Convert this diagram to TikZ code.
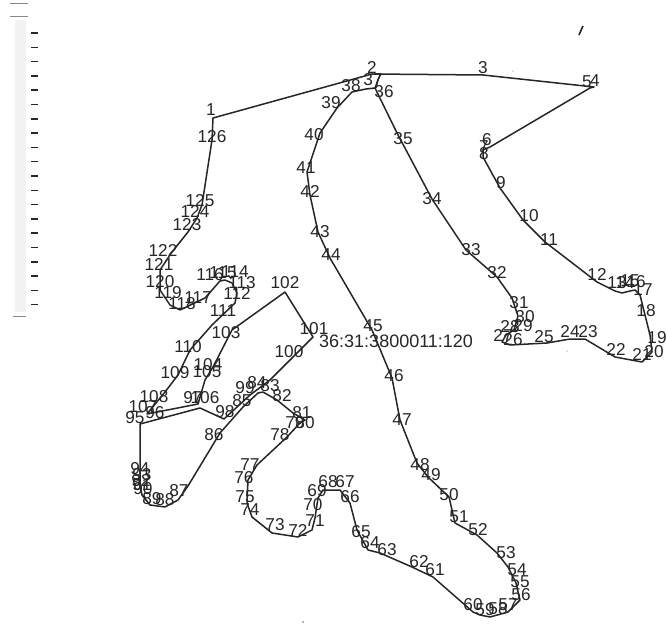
\documentclass[tikz,border=0pt]{standalone}
\usepackage{fontspec}
\setmainfont{Liberation Sans}
\usepackage{xcolor}
\definecolor{DeepInk}{HTML}{262626}
\definecolor{SoftInk}{HTML}{F2F2F5}
\tikzset{
  outline/.style={draw=DeepInk,line width=1.5pt,line join=round},
  ptlabel/.style={font=\fontsize{17.2}{18}\selectfont,text=DeepInk,inner sep=0pt},
  ruletick/.style={draw=DeepInk,line width=1.5pt},
  rulecap/.style={draw=DeepInk!55,line width=1pt},
  speck/.style={draw=DeepInk,line width=1.6pt}
}
\begin{document}
\begin{tikzpicture}[x=1pt,y=-1pt]
  \useasboundingbox (0,0) rectangle (667,631);
  % scale strip
  \fill[SoftInk] (15,20) rectangle (26,312);
  \coordinate (capa) at (10,4);   \coordinate (capb) at (28,4);
  \coordinate (capc) at (10,17);  \coordinate (capd) at (28,17);
  \coordinate (cape) at (13,316); \coordinate (capf) at (26,316);
  \draw[rulecap] (capa) -- (capb);
  \draw[rulecap] (capc) -- (capd);
  \draw[rulecap] (cape) -- (capf);
  \foreach \i in {0,...,19}
    \draw[ruletick] (31,33+14.3*\i) -- (38,33+14.3*\i);
  % specks
  \draw[speck] (583,26) -- (579,35);
  \fill[DeepInk!70] (303,622) circle (0.8);
  \fill[DeepInk!50] (513,71) circle (0.6);
  \fill[DeepInk!50] (567,351) circle (0.6);
  % n / vertex / label
  \foreach \n/\x/\y/\lx/\ly in {
    1/213/118/211/110, 2/372/74/372/67, 3/483/75/483/68, 4/594/87/595/81, 5/590/88/587/82,
    6/490/147/487/140, 7/483/150/484/147, 8/483/157/484/154, 9/500/188/501/183, 10/523/220/529/216,
    11/545/242/549/240, 12/597/282/597/274, 13/615/291/617/283, 14/622/293/625/283, 15/630/291/630/281,
    16/635/290/636/282, 17/640/295/643/290, 18/645/315/646/311, 19/650/335/657/338, 20/652/352/654/352,
    21/642/362/642/354, 22/615/357/616/349, 23/585/339/588/332, 24/570/339/570/331, 25/547/343/544/337,
    26/510/345/513/340, 27/502/342/503/335, 28/506/335/510/327, 29/514/330/523/326, 30/518/316/525/317,
    31/512/298/519/303, 32/497/277/497/273, 33/466/250/471/250, 34/432/199/432/199, 35/397/133/403/139,
    36/375/88/384/92, 37/366/89/373/80, 38/352/92/351/86, 39/337/108/331/103, 40/320/133/314/135,
    41/307/172/306/168, 42/310/195/310/191, 43/318/232/320/232, 44/330/258/331/255, 45/372/330/373/326,
    46/392/378/394/376, 47/400/420/402/420, 48/417/463/420/465, 49/428/477/431/475, 50/449/497/449/495,
    51/455/523/459/517, 52/477/535/478/530, 53/497/553/506/553, 54/508/567/517/570, 55/516/583/520/582,
    56/520/600/521/595, 57/508/612/508/605, 58/490/617/498/609, 59/480/615/485/610, 60/473/612/473/605,
    61/433/577/435/570, 62/412/567/419/562, 63/380/553/387/550, 64/368/550/370/543, 65/357/530/361/532,
    66/350/503/350/497, 67/340/490/345/482, 68/323/490/328/482, 69/318/498/317/491, 70/315/518/313/505,
    71/312/530/315/521, 72/298/537/298/530, 73/272/533/275/525, 74/252/517/250/510, 75/247/503/245/497,
    76/248/480/244/478, 77/257/465/250/465, 78/287/437/280/435, 79/300/423/295/423, 80/305/420/305/423,
    81/293/413/302/413, 82/277/400/282/396, 83/263/392/270/386, 84/258/393/257/383, 85/243/407/242/401,
    86/220/433/214/435, 87/188/486/179/491, 88/178/500/165/500, 89/165/507/152/499, 90/150/505/143/489,
    91/142/495/142/485, 92/140/485/141/481, 93/140/475/142/475, 94/140/465/140/469, 95/140/424/135/418,
    96/155/420/155/413, 97/200/408/193/398, 98/224/419/225/412, 99/250/395/245/388, 100/270/380/289/352,
    101/313/337/314/329, 102/285/292/285/283, 103/232/330/226/333, 104/213/367/208/365, 105/205/380/207/372,
    106/198/404/205/398, 107/147/414/143/407, 108/165/392/154/397, 109/178/375/175/373, 110/190/350/188/347,
    111/212/325/223/311, 112/235/303/237/293, 113/237/293/242/283, 114/232/283/235/272, 115/225/280/223/273,
    116/220/281/210/275, 117/205/298/198/298, 118/180/310/182/304, 119/170/305/168/293, 120/160/290/160/282,
    121/160/270/159/264, 122/172/252/163/250, 123/188/232/187/225, 124/197/218/195/211, 125/202/205/200/201,
    126/212/140/212/137}
  {
    \coordinate (pt\n) at (\x,\y);
    \node[ptlabel] (lab\n) at (\lx,\ly) {\n};
  }
  \coordinate (ptspur) at (380,75);
  \draw[outline] (pt1) \foreach \n in {2,...,126}{ -- (pt\n) } -- cycle;
  \draw[outline] (pt36) -- (ptspur);
  \node[ptlabel,anchor=west,font=\fontsize{18}{19}\selectfont] (readout) at (319,341) {36:31:3800011:120};
\end{tikzpicture}
\end{document}
